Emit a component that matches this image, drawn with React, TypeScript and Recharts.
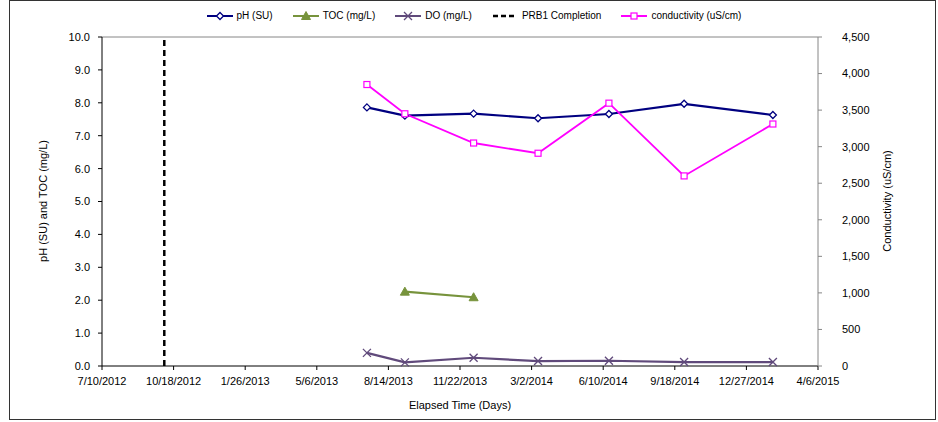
import React from 'react'
import { LineChart, Line, XAxis, YAxis, ReferenceLine } from 'recharts'

// x axis tick labels (every 100 days)
const tickDates = [
  '7/10/2012', '10/18/2012', '1/26/2013', '5/6/2013', '8/14/2013', '11/22/2013',
  '3/2/2014', '6/10/2014', '9/18/2014', '12/27/2014', '4/6/2015',
]
const sampleDates = ['7/15/2013', '9/6/2013', '12/11/2013', '3/11/2014', '6/18/2014', '10/1/2014', '2/2/2015']
const phValues = [7.86, 7.61, 7.67, 7.53, 7.66, 7.97, 7.63]
const tocValues: (number | null)[] = [null, 2.26, 2.09, null, null, null, null]
const doValues = [0.4, 0.11, 0.25, 0.15, 0.16, 0.12, 0.12]
const conductivityValues = [3850, 3450, 3050, 2910, 3595, 2600, 3310]
const prb1Date = '10/5/2012'
const leftTicks = [0, 1, 2, 3, 4, 5, 6, 7, 8, 9, 10]
const rightTicks = [0, 500, 1000, 1500, 2000, 2500, 3000, 3500, 4000, 4500]

const FONT = '"Liberation Sans", Arial, sans-serif'
const PH = '#000080'
const TOC = '#77933C'
const DO = '#604A7B'
const COND = '#FF00FF'

const toDay = (s: string) => {
  const [m, d, y] = s.split('/').map(Number)
  return Date.UTC(y, m - 1, d) / 86400000
}
const fmtDate = (v: number) => {
  const dt = new Date(v * 86400000)
  return `${dt.getUTCMonth() + 1}/${dt.getUTCDate()}/${dt.getUTCFullYear()}`
}

const xTicks = tickDates.map(toDay)

const rows = sampleDates.map((d, i) => ({
  day: toDay(d),
  ph: phValues[i],
  toc: tocValues[i],
  do: doValues[i],
  cond: conductivityValues[i],
}))

const DiamondDot = (p: any) => {
  const { cx, cy } = p
  if (cx == null || cy == null || p.value == null) return null
  return <path d={`M${cx},${cy - 3.5}L${cx + 3.5},${cy}L${cx},${cy + 3.5}L${cx - 3.5},${cy}Z`} fill="#fff" stroke={PH} strokeWidth={1.3} />
}
const TriangleDot = (p: any) => {
  const { cx, cy } = p
  if (cx == null || cy == null || p.value == null) return null
  return <path d={`M${cx},${cy - 4.5}L${cx + 4.5},${cy + 3.5}L${cx - 4.5},${cy + 3.5}Z`} fill={TOC} stroke={TOC} strokeWidth={1} />
}
const CrossDot = (p: any) => {
  const { cx, cy } = p
  if (cx == null || cy == null || p.value == null) return null
  return <path d={`M${cx - 4},${cy - 4}L${cx + 4},${cy + 4}M${cx + 4},${cy - 4}L${cx - 4},${cy + 4}`} stroke={DO} strokeWidth={1.3} />
}
const SquareDot = (p: any) => {
  const { cx, cy } = p
  if (cx == null || cy == null || p.value == null) return null
  return <rect x={cx - 3} y={cy - 3} width={6} height={6} fill="#fff" stroke={COND} strokeWidth={1.2} />
}

const legendItems = [
  { label: 'pH (SU)', color: PH, marker: 'diamond' },
  { label: 'TOC (mg/L)', color: TOC, marker: 'triangle' },
  { label: 'DO (mg/L)', color: DO, marker: 'cross' },
  { label: 'PRB1 Completion', color: '#000', marker: 'dash' },
  { label: 'conductivity (uS/cm)', color: COND, marker: 'square' },
]

function LegendIcon({ color, marker }: { color: string; marker: string }) {
  const cx = 13
  const cy = 5
  return (
    <svg width={26} height={10} style={{ marginRight: 4 }}>
      {marker === 'dash' ? (
        <line x1={1} y1={cy} x2={25} y2={cy} stroke={color} strokeWidth={2.5} strokeDasharray="5 3" />
      ) : (
        <line x1={0} y1={cy} x2={26} y2={cy} stroke={color} strokeWidth={2} />
      )}
      {marker === 'diamond' && <DiamondDot cx={cx} cy={cy} value={1} />}
      {marker === 'triangle' && <TriangleDot cx={cx} cy={cy} value={1} />}
      {marker === 'cross' && <CrossDot cx={cx} cy={cy} value={1} />}
      {marker === 'square' && <SquareDot cx={cx} cy={cy} value={1} />}
    </svg>
  )
}

function TopLegend() {
  return (
    <div style={{ position: 'absolute', top: 10, left: 0, width: 938, display: 'flex', justifyContent: 'center', gap: 20, paddingLeft: 10, boxSizing: 'border-box', fontFamily: FONT, fontSize: 10, color: '#000' }}>
      {legendItems.map(it => (
        <div key={it.label} style={{ display: 'flex', alignItems: 'center' }}>
          <LegendIcon color={it.color} marker={it.marker} />
          <span>{it.label}</span>
        </div>
      ))}
    </div>
  )
}

export default function App() {
  return (
    <div style={{ position: 'absolute', left: 0, top: 0, width: 938, height: 422, background: '#fff' }}>
      <div style={{ position: 'absolute', left: 9, top: 0, width: 925, height: 418, border: '1.5px solid #333' }} />
      <LineChart
        width={938}
        height={422}
        data={rows}
        margin={{ top: 37, right: 0, bottom: 6, left: 42 }}
        style={{ position: 'absolute', left: 0, top: 0, fontFamily: FONT }}
      >
        <XAxis
          dataKey="day"
          type="number"
          domain={[xTicks[0], xTicks[xTicks.length - 1]]}
          ticks={xTicks}
          tickFormatter={fmtDate}
          height={50}
          stroke="#000"
          tickSize={4}
          tickMargin={7}
          tick={{ fontSize: 11, fill: '#000' }}
          label={{ value: 'Elapsed Time (Days)', position: 'insideBottom', offset: 7, style: { fontSize: 11, fill: '#000' } }}
        />
        <YAxis
          yAxisId="left"
          domain={[0, 10]}
          ticks={leftTicks}
          width={60}
          stroke="#000"
          tickSize={4}
          tickMargin={8}
          tickFormatter={(v: number) => v.toFixed(1)}
          tick={{ fontSize: 11, fill: '#000' }}
          label={() => (
            <text x={43} y={201} transform="rotate(-90 43 201)" textAnchor="middle" dominantBaseline="central" fontSize={11} fill="#000">
              pH (SU) and TOC (mg/L)
            </text>
          )}
        />
        <YAxis
          yAxisId="right"
          orientation="right"
          domain={[0, 4500]}
          ticks={rightTicks}
          width={120}
          stroke="#868686"
          tickSize={4}
          tickMargin={20}
          tickFormatter={(v: number) => v.toLocaleString('en-US')}
          tick={{ fontSize: 11, fill: '#000' }}
          label={() => (
            <text x={887} y={201} transform="rotate(-90 887 201)" textAnchor="middle" dominantBaseline="central" fontSize={11} fill="#000">
              Conductivity (uS/cm)
            </text>
          )}
        />
        <ReferenceLine yAxisId="left" y={10} stroke="#868686" strokeWidth={1} />
        <ReferenceLine yAxisId="left" x={toDay(prb1Date)} stroke="#000" strokeWidth={2.5} strokeDasharray="6 4" />
        <Line yAxisId="left" dataKey="ph" stroke={PH} strokeWidth={2.2} dot={<DiamondDot />} isAnimationActive={false} />
        <Line yAxisId="left" dataKey="toc" stroke={TOC} strokeWidth={2.2} dot={<TriangleDot />} isAnimationActive={false} />
        <Line yAxisId="left" dataKey="do" stroke={DO} strokeWidth={2.2} dot={<CrossDot />} isAnimationActive={false} />
        <Line yAxisId="right" dataKey="cond" stroke={COND} strokeWidth={1.8} dot={<SquareDot />} isAnimationActive={false} />
      </LineChart>
      <TopLegend />
    </div>
  )
}
